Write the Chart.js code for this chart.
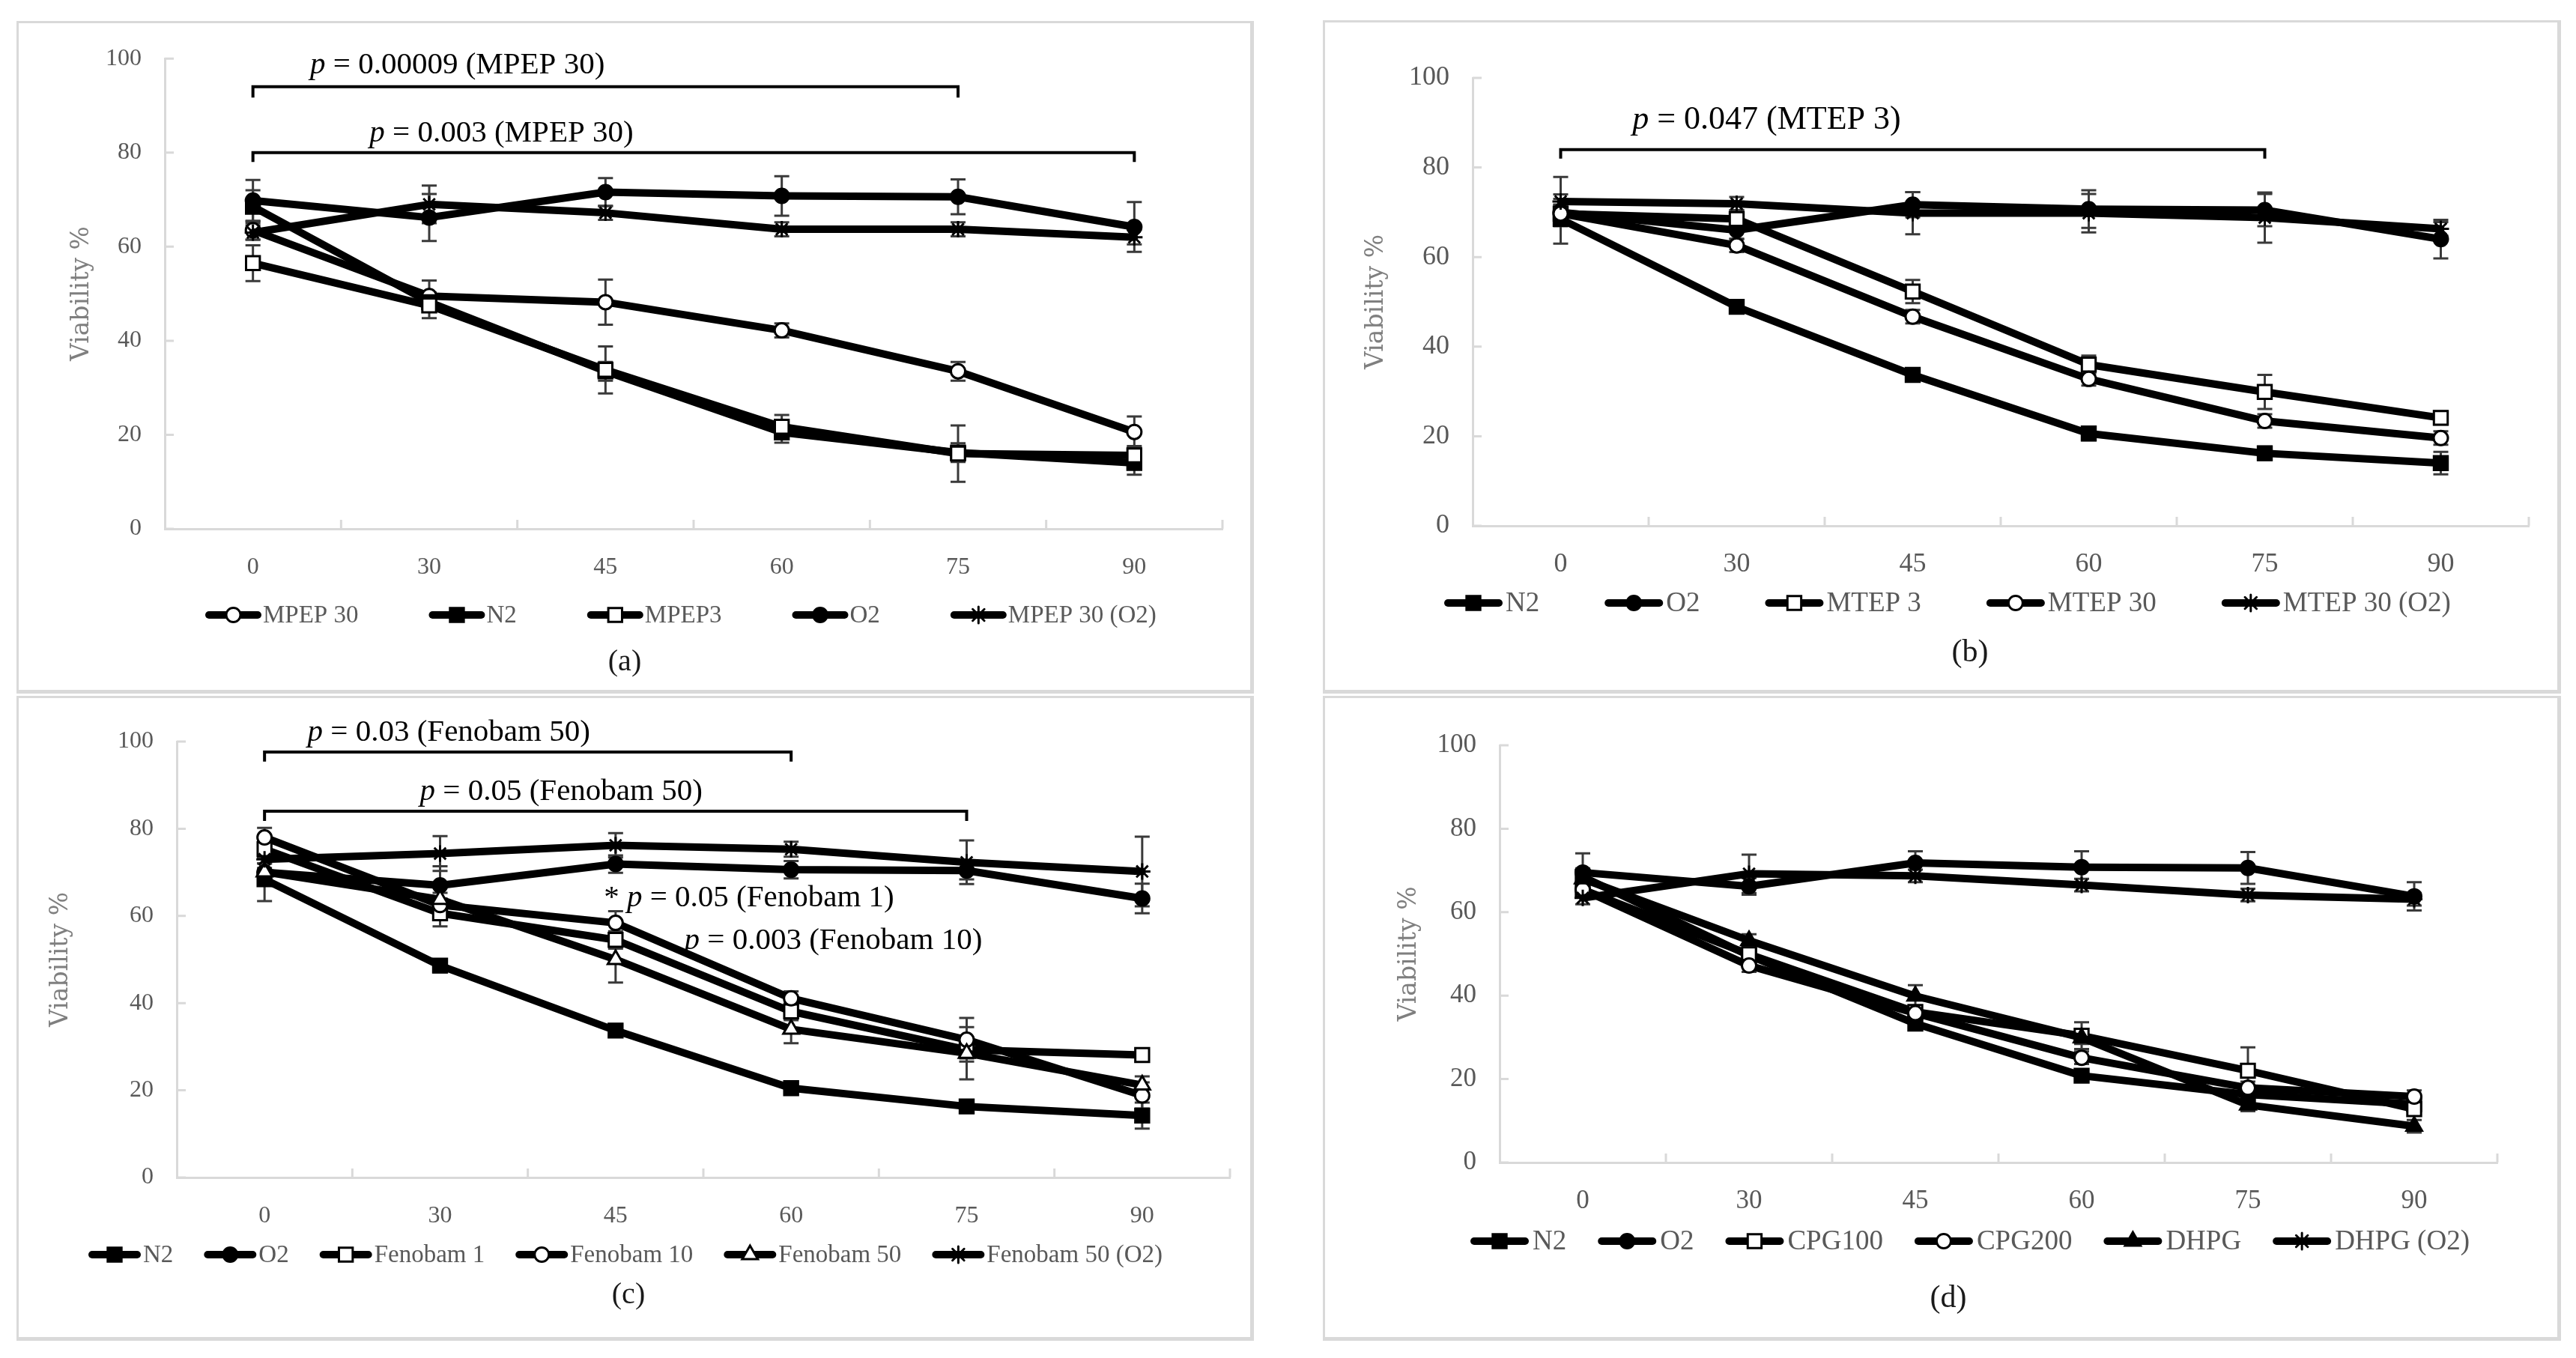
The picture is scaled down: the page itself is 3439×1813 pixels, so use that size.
<!DOCTYPE html>
<html>
<head>
<meta charset="utf-8">
<script src="https://cdn.jsdelivr.net/npm/chart.js@4.4.1/dist/chart.umd.min.js"></script>
<style>
html,body{margin:0;padding:0;background:#fff;}
body{width:3439px;height:1813px;position:relative;overflow:hidden;}
.frame{position:absolute;box-sizing:border-box;border-style:solid;border-color:#d9d9d9;border-width:3px 5px 5px 3px;}
canvas{position:absolute;}
</style>
</head>
<body>
<script>
// ---------------- DATA ----------------
const timeLabels = ['0', '30', '45', '60', '75', '90'];
const yTickValues = [0, 20, 40, 60, 80, 100];

// Panel (a)
const aSeriesNames = ['MPEP 30', 'N2', 'MPEP3', 'O2', 'MPEP 30 (O2)'];
const aMPEP30      = [63.5, 49.5, 48.2, 42.2, 33.5, 20.6];
const aMPEP30Err   = [2.0, 3.3, 4.8, 1.5, 2.0, 3.3];
const aN2          = [68.5, 48.2, 33.5, 20.5, 16.2, 14.0];
const aN2Err       = [3.5, 2.0, 2.0, 2.2, 2.0, 2.5];
const aMPEP3       = [56.5, 47.5, 33.8, 21.7, 16.0, 15.6];
const aMPEP3Err    = [3.8, 2.7, 5.0, 2.5, 6.0, 2.0];
const aO2          = [69.8, 66.2, 71.6, 70.8, 70.6, 64.2];
const aO2Err       = [4.4, 5.0, 3.0, 4.2, 3.7, 5.3];
const aMPEP30O2    = [63.0, 69.0, 67.2, 63.7, 63.7, 62.0];
const aMPEP30O2Err = [1.5, 4.0, 1.5, 1.5, 1.5, 1.5];

// Panel (b)
const bSeriesNames = ['N2', 'O2', 'MTEP 3', 'MTEP 30', 'MTEP 30 (O2)'];
const bN2          = [68.5, 48.9, 33.7, 20.6, 16.2, 14.0];
const bN2Err       = [5.5, 1.5, 1.5, 1.5, 1.5, 2.5];
const bO2          = [70.0, 66.0, 71.7, 70.7, 70.5, 64.0];
const bO2Err       = [3.0, 2.0, 2.8, 4.2, 3.6, 4.3];
const bMTEP3       = [69.7, 68.5, 52.3, 36.0, 29.9, 24.1];
const bMTEP3Err    = [2.0, 2.0, 2.6, 2.0, 3.8, 1.5];
const bMTEP30      = [69.7, 62.6, 46.7, 32.8, 23.4, 19.6];
const bMTEP30Err   = [2.0, 1.5, 1.5, 1.5, 1.5, 1.5];
const bMTEP30O2    = [72.4, 71.9, 69.8, 69.8, 68.8, 66.3];
const bMTEP30O2Err = [5.5, 1.5, 4.7, 4.3, 5.6, 1.5];

// Panel (c)
const cSeriesNames = ['N2', 'O2', 'Fenobam 1', 'Fenobam 10', 'Fenobam 50', 'Fenobam 50 (O2)'];
const cN2          = [68.4, 48.6, 33.7, 20.5, 16.3, 14.2];
const cN2Err       = [5.0, 1.5, 1.5, 1.5, 1.5, 3.0];
const cO2          = [70.0, 67.0, 71.9, 70.6, 70.4, 64.0];
const cO2Err       = [2.0, 4.4, 2.0, 2.0, 2.0, 3.4];
const cFen1        = [75.3, 60.6, 54.5, 38.1, 29.3, 28.1];
const cFen1Err     = [2.0, 3.0, 2.0, 2.0, 2.0, 1.5];
const cFen10       = [78.0, 62.5, 58.4, 41.1, 31.6, 18.8];
const cFen10Err    = [2.2, 1.5, 2.7, 1.6, 5.0, 3.0];
const cFen50       = [70.1, 63.8, 50.0, 34.0, 28.5, 21.2];
const cFen50Err    = [2.0, 1.5, 5.3, 3.2, 6.0, 2.0];
const cFen50O2     = [73.0, 74.3, 76.2, 75.3, 72.3, 70.2];
const cFen50O2Err  = [2.0, 4.0, 2.8, 1.7, 5.0, 8.0];

// Panel (d)
const dSeriesNames = ['N2', 'O2', 'CPG100', 'CPG200', 'DHPG', 'DHPG (O2)'];
const dN2          = [68.5, 49.6, 33.3, 20.8, 16.3, 14.0];
const dN2Err       = [2.0, 1.5, 1.5, 1.5, 1.5, 1.5];
const dO2          = [69.5, 66.2, 71.8, 70.8, 70.6, 63.8];
const dO2Err       = [4.6, 2.0, 2.8, 3.8, 3.8, 3.4];
const dCPG100      = [65.4, 49.9, 36.1, 30.4, 22.0, 12.8];
const dCPG100Err   = [1.5, 1.5, 1.5, 3.2, 5.6, 1.5];
const dCPG200      = [65.4, 47.2, 35.8, 25.1, 17.9, 15.8];
const dCPG200Err   = [1.5, 1.5, 1.5, 1.5, 1.5, 1.5];
const dDHPG        = [68.0, 53.2, 39.9, 29.9, 13.8, 8.7];
const dDHPGErr     = [1.5, 1.5, 2.6, 1.5, 1.5, 1.5];
const dDHPGO2      = [63.4, 69.2, 68.7, 66.5, 64.1, 63.1];
const dDHPGO2Err   = [1.5, 4.6, 1.5, 1.5, 1.5, 1.5];

// ---------------- STYLE / LAYOUT ----------------
const SERIF = '"Liberation Serif", "Times New Roman", serif';
const MARKERS = {
  openCircle:     {pointStyle: 'circle',   radius: 9.5, fill: '#ffffff'},
  filledCircle:   {pointStyle: 'circle',   radius: 9.5, fill: '#000000'},
  openSquare:     {pointStyle: 'rect',     radius: 13,  fill: '#ffffff'},
  filledSquare:   {pointStyle: 'rect',     radius: 13,  fill: '#000000'},
  openTriangle:   {pointStyle: 'triangle', radius: 12,  fill: '#ffffff'},
  filledTriangle: {pointStyle: 'triangle', radius: 12,  fill: '#000000'},
  star:           {pointStyle: 'star',     radius: 11,  fill: '#000000'}
};

const panels = [
  {
    frame: {left: 22, top: 28, width: 1652, height: 898},
    pad: {left: 0, top: 49, right: 42, bottom: 140}, yWidth: 198, xHeight: 80, titlePad: 68,
    tickSize: 32, noteSize: 41,
    names: aSeriesNames,
    series: [aMPEP30, aN2, aMPEP3, aO2, aMPEP30O2],
    errors: [aMPEP30Err, aN2Err, aMPEP3Err, aO2Err, aMPEP30O2Err],
    markers: ['openCircle', 'filledSquare', 'openSquare', 'filledCircle', 'star'],
    legend: {x: 252, y: 793, sample: 75, offset: 2, gap: 94, size: 33},
    tag: {text: '(a)', x: 812, y: 856, size: 40},
    brackets: [{from: 0, to: 4, v: 94, drop: 2.3}, {from: 0, to: 5, v: 80, drop: 2.0}],
    notes: [
      {pre: '', it: 'p', post: ' = 0.00009 (MPEP 30)', cx: 1.16, v: 98.6},
      {pre: '', it: 'p', post: ' = 0.003 (MPEP 30)', cx: 1.41, v: 84}
    ]
  },
  {
    frame: {left: 1766, top: 27, width: 1653, height: 899},
    pad: {left: 0, top: 77, right: 43, bottom: 144}, yWidth: 200, xHeight: 80, titlePad: 52,
    tickSize: 36, noteSize: 44,
    names: bSeriesNames,
    series: [bN2, bO2, bMTEP3, bMTEP30, bMTEP30O2],
    errors: [bN2Err, bO2Err, bMTEP3Err, bMTEP30Err, bMTEP30O2Err],
    markers: ['filledSquare', 'filledCircle', 'openSquare', 'openCircle', 'star'],
    legend: {x: 162, y: 778, sample: 78, offset: 4, gap: 87, size: 37},
    tag: {text: '(b)', x: 864, y: 845, size: 42},
    brackets: [{from: 0, to: 4, v: 84, drop: 2.0}],
    notes: [
      {pre: '', it: 'p', post: ' = 0.047 (MTEP 3)', cx: 1.17, v: 90.6}
    ]
  },
  {
    frame: {left: 22, top: 929, width: 1652, height: 861},
    pad: {left: 0, top: 61, right: 32, bottom: 138}, yWidth: 214, xHeight: 80, titlePad: 40,
    tickSize: 32, noteSize: 41,
    names: cSeriesNames,
    series: [cN2, cO2, cFen1, cFen10, cFen50, cFen50O2],
    errors: [cN2Err, cO2Err, cFen1Err, cFen10Err, cFen50Err, cFen50O2Err],
    markers: ['filledSquare', 'filledCircle', 'openSquare', 'openCircle', 'openTriangle', 'star'],
    legend: {x: 96, y: 746, sample: 70, offset: 3, gap: 41, size: 33},
    tag: {text: '(c)', x: 817, y: 800, size: 40},
    brackets: [{from: 0, to: 3, v: 97.6, drop: 2.2}, {from: 0, to: 4, v: 84, drop: 2.2}],
    notes: [
      {pre: '', it: 'p', post: ' = 0.03 (Fenobam 50)', cx: 1.05, v: 102},
      {pre: '', it: 'p', post: ' = 0.05 (Fenobam 50)', cx: 1.69, v: 88.5},
      {pre: '* ', it: 'p', post: ' = 0.05 (Fenobam 1)', cx: 2.76, v: 64.1},
      {pre: '', it: 'p', post: ' = 0.003 (Fenobam 10)', cx: 3.24, v: 54.3}
    ]
  },
  {
    frame: {left: 1766, top: 929, width: 1653, height: 861},
    pad: {left: 0, top: 66, right: 85, bottom: 158}, yWidth: 236, xHeight: 80, titlePad: 96,
    tickSize: 35, noteSize: 44,
    names: dSeriesNames,
    series: [dN2, dO2, dCPG100, dCPG200, dDHPG, dDHPGO2],
    errors: [dN2Err, dO2Err, dCPG100Err, dCPG200Err, dDHPGErr, dDHPGO2Err],
    markers: ['filledSquare', 'filledCircle', 'openSquare', 'openCircle', 'filledTriangle', 'star'],
    legend: {x: 197, y: 728, sample: 78, offset: 5, gap: 42, size: 37},
    tag: {text: '(d)', x: 835, y: 805, size: 42},
    brackets: [],
    notes: []
  }
];

// ---------------- DRAW HELPERS ----------------
function drawMarker(ctx, m, x, y) {
  ctx.save();
  ctx.fillStyle = m.fill;
  ctx.strokeStyle = '#000';
  ctx.lineWidth = 3;
  if (Chart.helpers && Chart.helpers.drawPoint) {
    Chart.helpers.drawPoint(ctx, {pointStyle: m.pointStyle, radius: m.radius, borderWidth: 3, rotation: 0}, x, y);
  } else {
    ctx.beginPath();
    ctx.arc(x, y, m.radius, 0, Math.PI * 2);
    ctx.fill(); ctx.stroke();
  }
  ctx.restore();
}

const extrasPlugin = {
  id: 'panelExtras',
  beforeDatasetsDraw(chart) {
    const ctx = chart.ctx;
    const xs = chart.scales.x, ys = chart.scales.y;
    const area = chart.chartArea;
    ctx.save();
    // inside tick marks
    ctx.strokeStyle = '#d9d9d9';
    ctx.lineWidth = 3;
    ctx.beginPath();
    yTickValues.forEach(v => {
      const y = ys.getPixelForValue(v);
      ctx.moveTo(area.left, y); ctx.lineTo(area.left + 12, y);
    });
    for (let i = 1; i <= timeLabels.length; i++) {
      const x = xs.getPixelForValue(i - 0.5);
      ctx.moveTo(x, area.bottom); ctx.lineTo(x, area.bottom - 12);
    }
    ctx.stroke();
    // error bars
    ctx.strokeStyle = '#3a3a3a';
    ctx.lineWidth = 3;
    chart.data.datasets.forEach((ds, di) => {
      const meta = chart.getDatasetMeta(di);
      ds.errors.forEach((e, i) => {
        const pt = meta.data[i];
        const v = ds.data[i];
        const x = pt.x;
        const y1 = ys.getPixelForValue(v + e);
        const y2 = ys.getPixelForValue(v - e);
        ctx.beginPath();
        ctx.moveTo(x, y1); ctx.lineTo(x, y2);
        ctx.moveTo(x - 10, y1); ctx.lineTo(x + 10, y1);
        ctx.moveTo(x - 10, y2); ctx.lineTo(x + 10, y2);
        ctx.stroke();
      });
    });
    ctx.restore();
  },
  afterDraw(chart) {
    const p = chart.$panel;
    const ctx = chart.ctx;
    const xs = chart.scales.x, ys = chart.scales.y;
    ctx.save();
    // brackets
    ctx.strokeStyle = '#000';
    ctx.lineWidth = 4;
    ctx.lineCap = 'butt';
    p.brackets.forEach(b => {
      const x1 = xs.getPixelForValue(b.from), x2 = xs.getPixelForValue(b.to);
      const y = ys.getPixelForValue(b.v), yd = ys.getPixelForValue(b.v - b.drop);
      ctx.beginPath();
      ctx.moveTo(x1, yd); ctx.lineTo(x1, y); ctx.lineTo(x2, y); ctx.lineTo(x2, yd);
      ctx.stroke();
    });
    // p-value notes
    ctx.fillStyle = '#000';
    ctx.textBaseline = 'middle';
    ctx.textAlign = 'left';
    const size = p.noteSize;
    p.notes.forEach(n => {
      const segs = [{t: n.pre, f: size + 'px ' + SERIF}, {t: n.it, f: 'italic ' + size + 'px ' + SERIF}, {t: n.post, f: size + 'px ' + SERIF}];
      let total = 0;
      segs.forEach(s => { ctx.font = s.f; s.w = ctx.measureText(s.t).width; total += s.w; });
      let x = xs.getPixelForValue(n.cx) - total / 2;
      const y = ys.getPixelForValue(n.v);
      segs.forEach(s => { ctx.font = s.f; ctx.fillText(s.t, x, y); x += s.w; });
    });
    // legend
    const lg = p.legend;
    let x = lg.x;
    chart.data.datasets.forEach((ds, di) => {
      ctx.strokeStyle = '#000';
      ctx.lineWidth = 10;
      ctx.lineCap = 'round';
      ctx.beginPath();
      ctx.moveTo(x + 5, lg.y); ctx.lineTo(x + lg.sample - 5, lg.y);
      ctx.stroke();
      drawMarker(ctx, MARKERS[p.markers[di]], x + lg.sample / 2, lg.y);
      ctx.fillStyle = '#595959';
      ctx.font = lg.size + 'px ' + SERIF;
      ctx.textAlign = 'left';
      ctx.textBaseline = 'middle';
      ctx.fillText(ds.label, x + lg.sample + lg.offset, lg.y + 1);
      x += lg.sample + lg.offset + ctx.measureText(ds.label).width + lg.gap;
    });
    // panel tag
    ctx.fillStyle = '#1a1a1a';
    ctx.font = p.tag.size + 'px ' + SERIF;
    ctx.textAlign = 'center';
    ctx.textBaseline = 'middle';
    ctx.fillText(p.tag.text, p.tag.x, p.tag.y);
    ctx.restore();
  }
};

// ---------------- BUILD ----------------
panels.forEach(p => {
  const fr = document.createElement('div');
  fr.className = 'frame';
  Object.assign(fr.style, {left: p.frame.left + 'px', top: p.frame.top + 'px', width: p.frame.width + 'px', height: p.frame.height + 'px'});
  document.body.appendChild(fr);
  const cv = document.createElement('canvas');
  cv.width = p.frame.width; cv.height = p.frame.height;
  Object.assign(cv.style, {left: p.frame.left + 'px', top: p.frame.top + 'px', width: p.frame.width + 'px', height: p.frame.height + 'px'});
  document.body.appendChild(cv);

  const n = p.series.length;
  const datasets = p.series.map((vals, i) => {
    const m = MARKERS[p.markers[i]];
    return {
      label: p.names[i],
      data: vals,
      errors: p.errors[i],
      order: n - i,
      borderColor: '#000000',
      borderWidth: 10,
      borderJoinStyle: 'round',
      borderCapStyle: 'round',
      tension: 0,
      fill: false,
      pointStyle: m.pointStyle,
      pointRadius: m.radius,
      pointBackgroundColor: m.fill,
      pointBorderColor: '#000000',
      pointBorderWidth: 3
    };
  });

  new Chart(cv, {
    type: 'line',
    data: {labels: timeLabels, datasets: datasets},
    options: {
      responsive: false,
      maintainAspectRatio: false,
      animation: false,
      devicePixelRatio: 1,
      events: [],
      layout: {padding: p.pad},
      plugins: {legend: {display: false}, tooltip: {enabled: false}, title: {display: false}},
      scales: {
        x: {
          type: 'category',
          offset: true,
          grid: {display: false, drawTicks: false},
          border: {display: true, color: '#d9d9d9', width: 3},
          ticks: {color: '#595959', font: {family: SERIF, size: p.tickSize}, padding: 52 - p.tickSize * 0.6, autoSkip: false, maxRotation: 0},
          afterFit: s => { s.height = p.xHeight; }
        },
        y: {
          min: 0, max: 100,
          grid: {display: false, drawTicks: false},
          border: {display: true, color: '#d9d9d9', width: 3},
          ticks: {stepSize: 20, color: '#595959', font: {family: SERIF, size: p.tickSize}, padding: 31},
          title: {display: true, text: 'Viability %', color: '#7f7f7f', font: {family: '"DejaVu Serif", serif', size: 33}, padding: {top: p.titlePad, bottom: 0}},
          afterFit: s => { s.width = p.yWidth; }
        }
      }
    },
    plugins: [{id: 'panelRef', beforeInit(c) { c.$panel = p; }}, extrasPlugin]
  });
});
</script>
</body>
</html>
